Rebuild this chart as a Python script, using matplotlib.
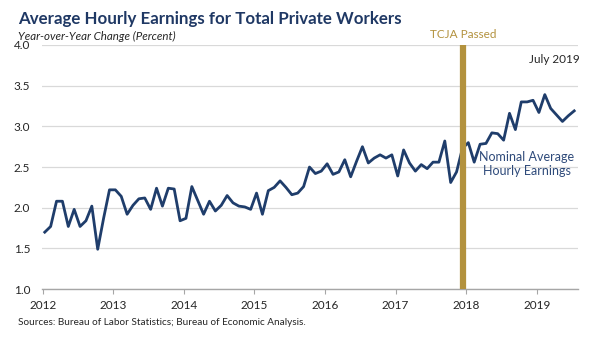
import numpy as np
import matplotlib.pyplot as plt

# year-over-year % change, monthly Jan 2012 - Jul 2019
ahe_2012 = [1.70, 1.77, 2.08, 2.08, 1.77, 1.98, 1.77, 1.84, 2.02, 1.49, 1.87, 2.22]
ahe_2013 = [2.22, 2.14, 1.92, 2.03, 2.11, 2.12, 1.98, 2.24, 2.02, 2.24, 2.23, 1.84]
ahe_2014 = [1.87, 2.26, 2.09, 1.92, 2.08, 1.96, 2.03, 2.15, 2.06, 2.02, 2.01, 1.98]
ahe_2015 = [2.18, 1.92, 2.21, 2.25, 2.33, 2.25, 2.16, 2.18, 2.26, 2.50, 2.42, 2.45]
ahe_2016 = [2.54, 2.41, 2.44, 2.59, 2.38, 2.57, 2.75, 2.55, 2.61, 2.65, 2.61, 2.65]
ahe_2017 = [2.39, 2.71, 2.55, 2.45, 2.53, 2.48, 2.56, 2.56, 2.82, 2.31, 2.44, 2.73]
ahe_2018 = [2.80, 2.56, 2.78, 2.79, 2.92, 2.91, 2.83, 3.16, 2.96, 3.30, 3.30, 3.32]
ahe_2019 = [3.17, 3.39, 3.22, 3.14, 3.06, 3.13, 3.19]

ahe = ahe_2012 + ahe_2013 + ahe_2014 + ahe_2015 + ahe_2016 + ahe_2017 + ahe_2018 + ahe_2019
years = [2012, 2013, 2014, 2015, 2016, 2017, 2018, 2019]
tcja_date = 2017.96

x = 2012 + (np.arange(len(ahe)) + 0.35) / 12

navy = '#1f3d6b'
gold = '#b3923e'
plt.rcParams['font.family'] = ['Lato', 'DejaVu Sans']

fig = plt.figure(figsize=(6, 3.43), dpi=100)
ax = fig.add_axes([0.07, 0.157, 0.893, 0.712])

ax.plot(x, ahe, color=navy, linewidth=2.0, zorder=3)
ax.axvline(tcja_date, color=gold, linewidth=4.5, zorder=4)

ax.set_xlim(2011.99, 2019.58)
ax.set_ylim(1.0, 4.0)
ax.set_yticks([1.0, 1.5, 2.0, 2.5, 3.0, 3.5, 4.0])
ax.set_yticklabels(['1.0', '1.5', '2.0', '2.5', '3.0', '3.5', '4.0'])
ax.set_xticks(years)
ax.set_xticklabels([str(y) for y in years])
ax.grid(axis='y', color='#d9d9d9', linewidth=0.9, zorder=0)
for s in ['top', 'right', 'left']:
    ax.spines[s].set_visible(False)
ax.spines['bottom'].set_color('#a6a6a6')
ax.spines['bottom'].set_linewidth(1.0)
ax.tick_params(axis='y', length=0, labelsize=8.5, labelcolor='#262626', pad=8.5)
ax.tick_params(axis='x', direction='out', length=3.5, color='#a6a6a6',
               labelsize=8.5, labelcolor='#262626', pad=4)

fig.text(0.03, 0.945, 'Average Hourly Earnings for Total Private Workers',
         fontsize=12.2, fontweight='bold', color='#1f3864', va='center')
fig.text(0.03, 0.895, 'Year-over-Year Change (Percent)', fontsize=8.3,
         style='italic', color='#262626', va='center')
ax.text(tcja_date, 4.06, 'TCJA Passed', color=gold, fontsize=8.5,
        ha='center', va='bottom')
ax.text(2019.25, 3.82, 'July 2019', color='#262626', fontsize=8.5,
        ha='center', va='center')
ax.text(2018.86, 2.54, 'Nominal Average\nHourly Earnings', color='#2e4a7a',
        fontsize=9, ha='center', va='center', linespacing=1.25)
fig.text(0.03, 0.06, 'Sources: Bureau of Labor Statistics; Bureau of Economic Analysis.',
         fontsize=7.2, color='#262626', va='center')

fig.savefig('out.png', dpi=100)
